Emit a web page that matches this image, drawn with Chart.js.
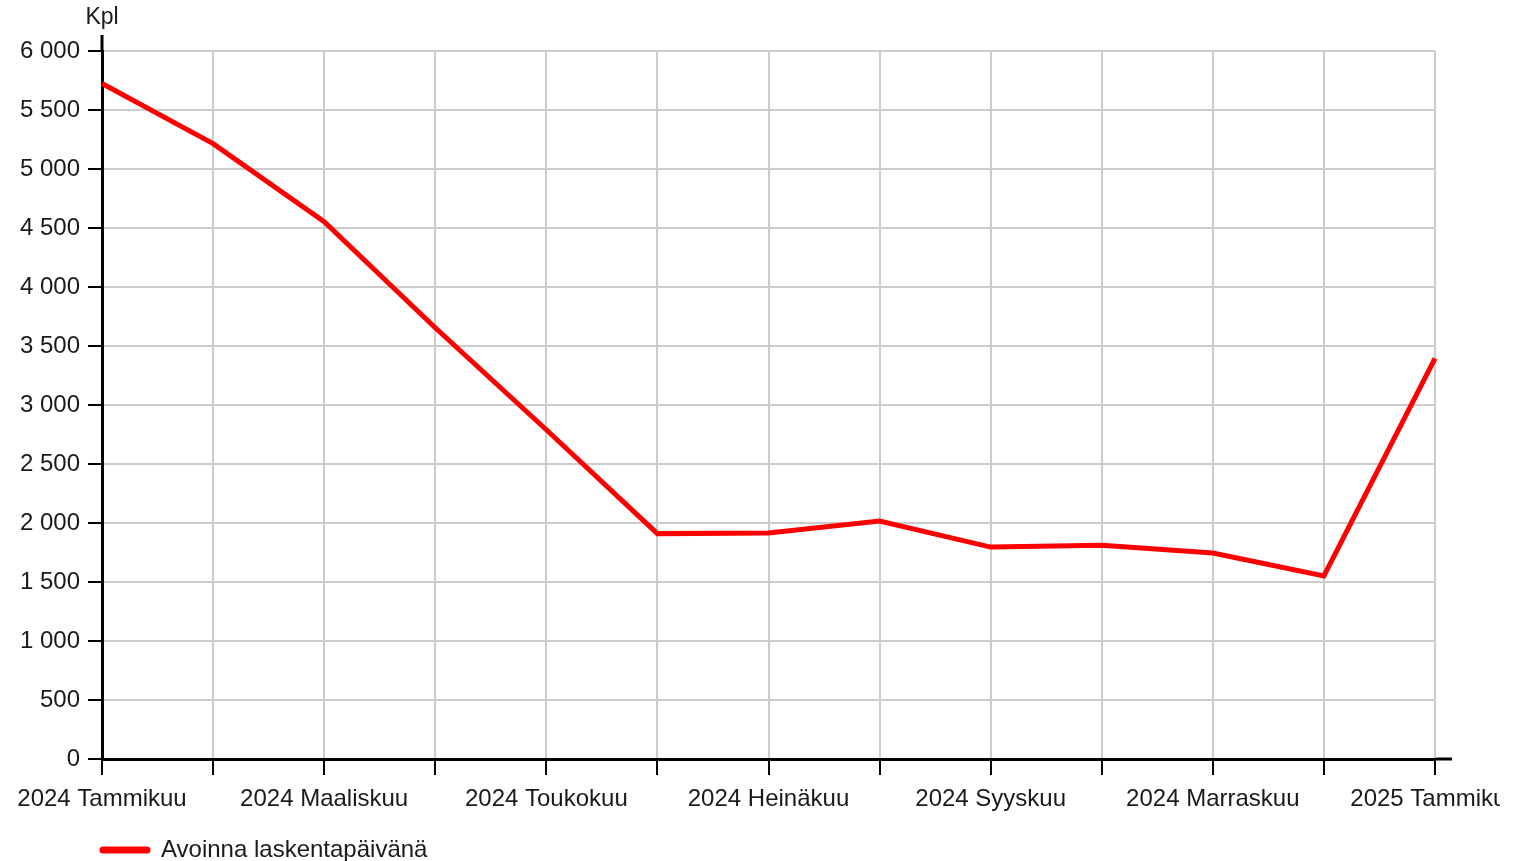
<!DOCTYPE html>
<html>
<head>
<meta charset="utf-8">
<script src="https://cdn.jsdelivr.net/npm/chart.js@4/dist/chart.umd.min.js"></script>
<style>
  html, body { margin: 0; padding: 0; background: #fff; }
  #wrap { width: 1500px; height: 861px; overflow: hidden; }
</style>
</head>
<body>
<div id="wrap"><canvas id="chart" width="1527" height="861"></canvas></div>
<script>
// Kuukaudet ja arvot
const months = [
    '2024 Tammikuu', '2024 Helmikuu', '2024 Maaliskuu', '2024 Huhtikuu',
    '2024 Toukokuu', '2024 Kesäkuu', '2024 Heinäkuu', '2024 Elokuu',
    '2024 Syyskuu', '2024 Lokakuu', '2024 Marraskuu', '2024 Joulukuu',
    '2025 Tammikuu'
];
const openCount = [5725, 5215, 4553, 3655, 2790, 1910, 1915, 2017, 1796, 1812, 1746, 1552, 3396];
const seriesLabel = 'Avoinna laskentapäivänä';
const yUnit = 'Kpl';
const yMax = 6000;
const yStep = 500;

const FONT = '"Liberation Sans", Arial, sans-serif';
const TEXT = '#1a1a1a';

function formatThousands(v) {
    return String(v).replace(/\B(?=(\d{3})+(?!\d))/g, ' ');
}

// Akselin jatkeet, yksikkö ja selite
const extras = {
    id: 'extras',
    afterDraw(chart) {
        const ctx = chart.ctx;
        const a = chart.chartArea;
        ctx.save();
        ctx.strokeStyle = '#000';
        ctx.lineWidth = 3;
        ctx.beginPath();
        ctx.moveTo(a.left, a.top - 16);
        ctx.lineTo(a.left, a.top);
        ctx.moveTo(a.right + 1, a.bottom);
        ctx.lineTo(a.right + 17, a.bottom);
        ctx.stroke();

        ctx.fillStyle = TEXT;
        ctx.font = '23px ' + FONT;
        ctx.textAlign = 'center';
        ctx.textBaseline = 'middle';
        ctx.fillText(yUnit, a.left, 18);

        // selite
        const ds = chart.data.datasets[0];
        const ly = 850;
        ctx.strokeStyle = ds.borderColor;
        ctx.lineWidth = 7;
        ctx.lineCap = 'round';
        ctx.beginPath();
        ctx.moveTo(103, ly);
        ctx.lineTo(147, ly);
        ctx.stroke();
        ctx.fillStyle = TEXT;
        ctx.font = '24px ' + FONT;
        ctx.textAlign = 'left';
        ctx.fillText(ds.label, 161, ly);
        ctx.restore();
    }
};

new Chart(document.getElementById('chart'), {
    type: 'line',
    data: {
        labels: months,
        datasets: [{
            label: seriesLabel,
            data: openCount,
            borderColor: '#ff0000',
            backgroundColor: '#ff0000',
            borderWidth: 5,
            pointRadius: 0,
            tension: 0,
            fill: false
        }]
    },
    options: {
        responsive: false,
        animation: false,
        layout: { padding: { top: 51, right: 92, bottom: 46, left: 0 } },
        plugins: {
            legend: { display: false },
            tooltip: { enabled: false }
        },
        scales: {
            x: {
                offset: false,
                afterFit(scale) {
                    scale.height = 56;
                    scale.paddingLeft = 0;
                    scale.paddingRight = 0;
                },
                grid: {
                    color: '#cccccc',
                    lineWidth: 2,
                    tickColor: '#000',
                    tickLength: 16,
                    tickWidth: 2
                },
                border: { color: '#000', width: 3 },
                ticks: {
                    autoSkip: false,
                    maxRotation: 0,
                    padding: 10,
                    color: TEXT,
                    font: { family: FONT, size: 24 },
                    callback: function (v, i) {
                        return i % 2 === 0 ? this.getLabelForValue(v) : '';
                    }
                }
            },
            y: {
                min: 0,
                max: yMax,
                afterFit(scale) { scale.width = 102; },
                grid: {
                    color: '#cccccc',
                    lineWidth: 2,
                    tickColor: '#000',
                    tickLength: 14,
                    tickWidth: 2
                },
                border: { color: '#000', width: 3 },
                ticks: {
                    stepSize: yStep,
                    padding: 8,
                    color: TEXT,
                    font: { family: FONT, size: 24 },
                    callback: v => formatThousands(v)
                }
            }
        }
    },
    plugins: [extras]
});
</script>
</body>
</html>
